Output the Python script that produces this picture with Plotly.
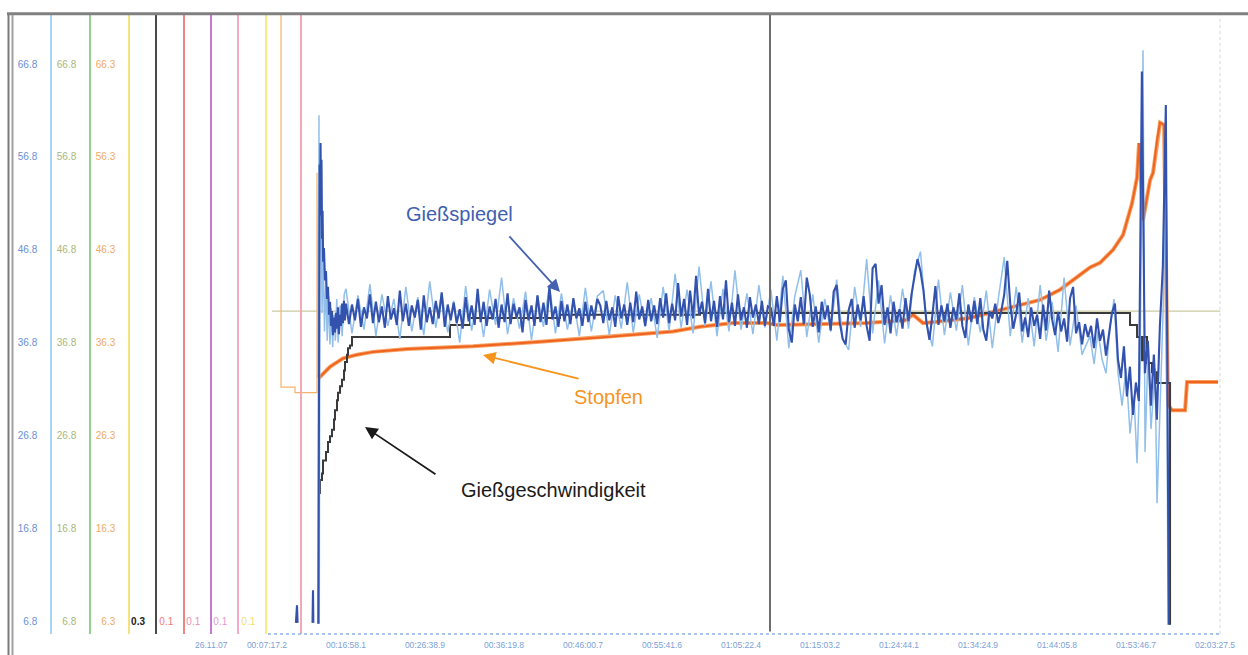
import plotly.graph_objects as go

# ---------------- tick labels ----------------
x_tick_vals = [437.2, 1018.1, 1598.9, 2179.8, 2760.7, 3341.6, 3922.4, 4503.2,
               5084.1, 5664.9, 6245.8, 6826.7, 7407.5]
x_tick_text = ["00:07:17.2", "00:16:58.1", "00:26:38.9", "00:36:19.8", "00:46:00.7",
               "00:55:41.6", "01:05:22.4", "01:15:03.2", "01:24:44.1", "01:34:24.9",
               "01:44:05.8", "01:53:46.7", "02:03:27.5"]
date_label = "26.11.07"

y_tick_vals = [6.8, 16.8, 26.8, 36.8, 46.8, 56.8, 66.8]
y_text_blue = ["6.8", "16.8", "26.8", "36.8", "46.8", "56.8", "66.8"]
y_text_green = ["6.8", "16.8", "26.8", "36.8", "46.8", "56.8", "66.8"]
y_text_orange = ["6.3", "16.3", "26.3", "36.3", "46.3", "56.3", "66.3"]
bottom_labels = ["0.3", "0.1", "0.1", "0.1", "0.1"]

# ---------------- Gießspiegel (dark) ----------------
gs_start_t = [650, 657.8, 662, 700, 772, 775.5, 778, 790, 815, 819.6, 824, 827, 831, 834.3,
              838, 842, 846, 850, 856, 863.7, 871, 878, 885.8, 893, 900.5, 908, 915, 922,
              930, 937, 944, 952, 959, 966, 974, 981, 989, 996, 1003, 1010]
gs_start_v = [6.6, 8.5, 6.6, None, 6.6, 10.1, 6.6, None, 6.5, 44.0, 56.0, 50.5, 58.3, 52.0,
              56.5, 48.0, 51.0, 45.5, 47.0, 43.5, 44.5, 41.5, 42.8, 39.8, 41.2, 38.6, 40.2, 37.6,
              39.5, 37.9, 40.0, 38.3, 40.6, 37.7, 39.8, 38.6, 41.0, 38.9, 41.3, 39.2]
gs_t0 = 1018.0
gs_dt = 22.0
gs_values = [
    41.0, 38.8, 40.9, 39.2, 41.5, 38.5, 40.6, 39.4, 42.0, 38.9, 41.2, 39.0, 40.7, 38.4, 41.8, 39.3, 40.5, 38.7, 42.4, 39.1,
    41.0, 38.6, 40.8, 39.5, 41.4, 38.2, 41.9, 39.0, 40.6, 38.8, 41.3, 39.4, 42.2, 38.5, 40.9, 39.2, 41.1, 38.9, 40.4, 38.3,
    41.7, 39.1, 40.8, 38.7, 42.6, 39.0, 41.2, 38.6, 40.7, 39.3, 41.5, 38.4, 40.9, 39.0, 42.1, 38.8, 41.0, 39.5, 40.6, 37.9,
    41.4, 39.2, 40.8, 38.6, 41.9, 39.0, 41.1, 38.7, 42.8, 39.3, 40.7, 38.5, 41.3, 39.1, 40.9, 38.8, 41.6, 39.4, 40.5, 38.6,
    41.2, 39.0, 40.8, 39.3, 41.5,
    40.8, 38.9, 41.3, 39.2, 40.6, 38.5, 41.8, 39.4, 40.9, 38.7, 41.1, 39.0, 42.3, 39.3, 40.7, 38.6, 41.4, 39.1, 40.8, 38.8,
    41.6, 39.5, 42.1, 38.9, 41.0, 39.2, 43.2, 39.6, 41.5, 38.7, 42.4, 39.4, 44.0, 39.8, 41.2, 38.9, 42.6, 39.1, 41.3, 38.5,
    41.8, 39.3, 43.5, 39.0, 41.1, 38.6, 42.0, 39.2, 40.6, 38.4, 41.7, 39.5, 40.9, 38.8, 41.3, 38.6, 40.7,
    40.5, 38.6, 41.8, 39.0, 42.6, 43.5, 38.2, 36.8, 40.9, 39.1, 41.7, 38.8, 43.8, 42.0, 38.5, 40.7, 37.9, 41.2, 39.3, 40.8,
    38.1, 42.3, 43.0, 39.0, 37.2, 36.6, 40.3, 41.5, 38.4, 40.9, 39.2, 41.8, 38.6, 37.0, 44.8, 45.3, 41.0, 43.0, 38.7, 40.6,
    37.8, 41.2, 39.0, 40.4, 38.3, 41.6, 39.1, 42.0, 43.8, 45.8, 44.5, 42.4, 39.0, 37.1, 39.8, 42.9, 38.7, 40.8, 39.1, 41.0,
    38.4, 40.6, 39.3, 42.1, 38.6, 37.3, 40.9, 39.0, 41.3, 38.8, 41.6, 38.2, 37.0, 40.2, 39.4, 41.0, 38.9,
    40.2, 42.0, 45.6, 41.0, 38.3, 39.9, 42.2, 38.0, 39.5, 37.4, 40.6, 38.6, 39.8, 37.2, 40.9, 38.1, 42.4, 39.3, 37.6, 40.1,
    38.0, 39.4, 36.9, 41.6, 42.8, 37.8, 39.0, 36.6, 38.8, 37.4,
    38.6, 36.2, 39.4, 37.0, 38.2, 35.4, 37.9, 40.0, 41.0, 35.0, 33.0, 36.4, 31.0, 34.2, 29.0, 32.5, 30.5, 66.0, 33.5, 37.0,
    30.0, 35.5, 28.5, 38.5, 45.0, 62.4, 6.4]

# ---------------- Gießspiegel (light / raw) ----------------
lt_start_t = [812.0, 819.6, 821.5, 826.0, 834.0, 842.0, 850.0, 860.0, 870.0, 880.0, 890.0,
              900.0, 910.0, 920.0, 930.0, 940.0, 950.0, 960.0, 975.0, 990.0, 1005.0]
lt_start_v = [6.5, 61.3, 6.5, 45.0, 55.0, 40.0, 47.0, 38.0, 43.5, 37.0, 41.8,
              36.6, 40.5, 36.3, 39.8, 37.0, 41.5, 36.8, 40.8, 37.5, 42.0]
lt_t0 = 1018.0
lt_dt = 44.0
lt_values = [
    42.6, 37.8, 41.9, 38.2, 43.1, 37.5, 42.0, 38.6, 41.5, 37.2, 42.8, 38.0, 41.7, 37.6, 43.4, 38.4, 42.2, 37.9, 41.3, 36.8,
    42.9, 38.1, 41.8, 37.4, 42.5, 38.7, 43.8, 37.7, 41.6, 38.3, 42.3, 37.1, 41.9, 38.5, 43.0, 37.8, 42.1, 38.2, 41.4, 37.5,
    42.7, 38.0, 41.8,
    42.4, 37.6, 41.9, 38.3, 43.3, 37.9, 42.0, 38.5, 41.6, 37.3, 42.8, 38.1, 44.2, 38.4, 42.5, 37.8, 45.0, 38.6, 43.4, 37.5,
    42.6, 38.0, 44.6, 38.2, 42.1, 37.7, 43.0, 38.4,
    42.5, 37.0, 44.0, 36.2, 41.8, 44.6, 37.4, 42.0, 36.8, 41.5, 38.0, 43.6, 37.2, 36.0, 42.8, 38.5, 45.8, 37.8, 43.5, 36.7,
    41.9, 37.5, 42.6, 38.3, 44.5, 46.6, 38.9, 36.4, 43.6, 37.6, 42.2, 38.1, 43.0, 36.5, 41.7, 37.9, 42.4, 36.2, 41.5,
    46.0, 37.5, 42.8, 36.8, 41.6, 36.4, 43.0, 37.0, 41.2, 35.8, 43.8, 36.5, 40.8, 35.5]
lt_end_t = [6488.6, 6518.0, 6547.5, 6576.9, 6606.3, 6635.7, 6665.1, 6694.5, 6723.9, 6753.3,
            6782.8, 6812.2, 6834.3, 6856.3, 6878.4, 6893.1, 6915.2, 6937.2, 6966.6, 6981.4,
            7003.4, 7025.5, 7047.6, 7062.3]
lt_end_v = [37.5, 34.5, 38.0, 35.0, 33.5, 38.5, 41.5, 33.5, 30.0, 34.0,
            27.0, 31.0, 23.8, 34.0, 68.3, 25.0, 36.0, 27.5, 34.0, 19.5,
            30.0, 40.0, 55.0, 6.4]

# ---------------- Stopfen ----------------
st_t = [540.2, 540.2, 643.1, 643.1, 804.9, 804.9, 812.2, 826.9, 900.5, 996.0,
        1099.0, 1216.6, 1466.6, 1951.9, 2444.5, 2937.1, 3422.5, 3621.0, 3863.7, 4113.7,
        4187.2, 4849.0, 5128.3, 5187.2, 5260.8, 5334.3, 5606.1, 5826.9, 5973.9, 6121.0,
        6268.1, 6415.1, 6488.6, 6562.2, 6657.8, 6731.3, 6797.5, 6834.3, 6849.0, 6878.4,
        6929.9, 6952.0, 6981.4, 7003.4, 7032.9, 7062.3, 7091.7, 7187.3, 7202.0, 7429.9]
st_v = [75.0, 32.0, 32.0, 31.4, 31.4, 55.1, 33.3, 33.1, 34.2, 35.1,
        35.5, 35.8, 36.1, 36.4, 36.9, 37.4, 38.0, 38.5, 38.9, 38.9,
        38.7, 38.9, 39.2, 39.8, 38.9, 39.0, 39.45, 40.3, 40.85, 41.4,
        42.5, 44.1, 44.9, 45.4, 46.8, 48.4, 51.8, 54.6, 58.3, 50.0,
        54.3, 55.1, 58.6, 60.5, 60.25, 30.1, 29.5, 29.5, 32.55, 32.55]

# ---------------- Gießgeschwindigkeit ----------------
gg_t = [812.2, 826.9, 841.6, 849.0, 871.0, 885.8, 900.5, 915.2, 929.9, 937.2,
        951.9, 959.3, 974.0, 988.7, 1003.4, 1010.7, 1025.5, 1032.8, 1047.5, 1062.2,
        1782.8, 1929.8, 2591.5, 3621.0, 6782.8, 6834.3, 6871.1, 6878.4, 6907.8, 6944.6,
        6981.4, 7077.0]
gg_v = [20.6, 22.0, 22.7, 24.1, 25.0, 26.1, 26.7, 27.4, 28.5, 29.5,
        30.6, 31.4, 32.1, 32.8, 33.8, 34.7, 35.5, 36.2, 36.5, 37.4,
        38.7, 39.45, 39.8, 40.0, 38.7, 37.4, 34.9, 37.4, 34.6, 33.6,
        32.45, 6.4]

# ---------------- Sollwert ----------------
sp_t = [474.0, 7444.6]
sp_v = [40.2, 40.2]

cursor_t = 4135.6

# ---------------- build ----------------
gs_t = gs_start_t + [gs_t0 + i * gs_dt for i in range(len(gs_values))]
gs_v = gs_start_v + gs_values
lt_t = lt_start_t + [lt_t0 + i * lt_dt for i in range(len(lt_values))] + lt_end_t
lt_v = lt_start_v + lt_values + lt_end_v

FONT = "Liberation Sans, Arial, sans-serif"
XR = [-1430.3, 7459.0]
YR = [5.40, 72.10]
L, R = 13, 1222
W = R - L


def pos(px):
    return (px - L) / W


fig = go.Figure()
fig.add_trace(go.Scatter(x=sp_t, y=sp_v, mode="lines", line=dict(color="#c9c9a0", width=1.2),
                         name="Sollwert", hoverinfo="skip"))
fig.add_trace(go.Scatter(x=st_t[:7], y=st_v[:7], mode="lines", line=dict(color="#f6b26b", width=1.2),
                         name="Stopfen", showlegend=False))
fig.add_trace(go.Scatter(x=st_t[6:], y=st_v[6:], mode="lines", line=dict(color="#f7a060", width=4),
                         name="Stopfen Rand", showlegend=False, hoverinfo="skip"))
fig.add_trace(go.Scatter(x=st_t[6:], y=st_v[6:], mode="lines", line=dict(color="#f0621f", width=2),
                         name="Stopfen"))
fig.add_trace(go.Scatter(x=gg_t, y=gg_v, mode="lines", line=dict(color="#3a3a3a", width=2, shape="hv"),
                         name="Gießgeschwindigkeit"))
fig.add_trace(go.Scatter(x=lt_t, y=lt_v, mode="lines", line=dict(color="#92bfea", width=1.5),
                         name="Gießspiegel roh", connectgaps=False))
fig.add_trace(go.Scatter(x=gs_t, y=gs_v, mode="lines", line=dict(color="#3352ae", width=2.1),
                         name="Gießspiegel", connectgaps=False))

axes_cfg = [
    # px, line colour, width, tick vals, tick texts, tick colour
    (51, "#a9d5f4", 1.5, y_tick_vals, y_text_blue, "#6b8fd4"),
    (90, "#93cf92", 1.5, y_tick_vals, y_text_green, "#a9b77c"),
    (129, "#f4e27a", 1.5, y_tick_vals, y_text_orange, "#f0aa62"),
    (156, "#4a4a4a", 2.0, [6.8], ["<b>" + bottom_labels[0] + "</b>"], "#222222"),
    (184, "#f28383", 1.5, [6.8], [bottom_labels[1]], "#f27a7a"),
    (211, "#c47ad4", 1.5, [6.8], [bottom_labels[2]], "#f08cb8"),
    (238, "#f4a9c6", 1.5, [6.8], [bottom_labels[3]], "#e59ad2"),
    (266, "#f6ee82", 1.5, [6.8], [bottom_labels[4]], "#f0e070"),
    (301, "#f3a9b3", 1.5, [], [], "#ffffff"),
]

layout_axes = {}
for k, (px, lc, lw, tv, tt, tc) in enumerate(axes_cfg):
    name = "yaxis" if k == 0 else f"yaxis{k + 1}"
    ax = dict(range=YR, anchor="free", position=pos(px), side="left", showline=True,
              linecolor=lc, linewidth=lw, showgrid=False, zeroline=False, ticks="",
              tickmode="array", tickvals=tv, ticktext=tt, automargin=False,
              ticklabelstandoff=11 if k < 3 else 8,
              tickfont=dict(family=FONT, size=10, color=tc))
    if k > 0:
        ax["overlaying"] = "y"
    layout_axes[name] = ax

# invisible traces so overlay axes are drawn
for k in range(1, len(axes_cfg)):
    fig.add_trace(go.Scatter(x=[None], y=[None], yaxis=f"y{k + 1}", showlegend=False,
                             hoverinfo="skip"))

fig.update_layout(
    width=1248, height=655,
    margin=dict(l=L, r=1248 - R, t=15, b=21),
    paper_bgcolor="white", plot_bgcolor="white",
    showlegend=False,
    font=dict(family=FONT),
    xaxis=dict(range=XR, showgrid=False, zeroline=False, showline=False, ticks="",
               tickmode="array", tickvals=x_tick_vals, ticktext=x_tick_text,
               ticklabelstandoff=4,
               tickfont=dict(family=FONT, size=8.5, color="#7b9fd9"), automargin=False),
    **layout_axes,
)

shapes = [
    # frame
    dict(type="line", xref="paper", yref="paper", x0=pos(7), x1=pos(1248), y0=1.002, y1=1.002,
         line=dict(color="#808080", width=3)),
    dict(type="line", xref="paper", yref="paper", x0=pos(8.5), x1=pos(8.5), y0=1.0, y1=-0.04,
         line=dict(color="#7a7a7a", width=2)),
    dict(type="line", xref="paper", yref="paper", x0=pos(12.5), x1=pos(12.5), y0=1.0, y1=-0.04,
         line=dict(color="#a0a0a0", width=2)),
    # right border
    dict(type="line", xref="paper", yref="paper", x0=pos(1220), x1=pos(1220), y0=0, y1=1,
         line=dict(color="#d6d6d6", width=1, dash="dot")),
    # cursor
    dict(type="line", xref="x", yref="paper", x0=cursor_t, x1=cursor_t, y0=0.004, y1=1,
         line=dict(color="#6e6e6e", width=2)),
    # dotted time axis
    dict(type="line", xref="x", yref="paper", x0=444.6, x1=7444.6, y0=0, y1=0,
         line=dict(color="#8fb3e8", width=1.5, dash="dot")),
]
fig.update_layout(shapes=shapes)

ann = [
    dict(x=25.5, y=0, xref="x", yref="paper", yanchor="middle", yshift=-11, text=date_label,
         showarrow=False, font=dict(family=FONT, size=8.5, color="#7b9fd9")),
    dict(x=1849.0, y=50.66, xref="x", yref="y", text="Gießspiegel", showarrow=False,
         font=dict(family=FONT, size=20, color="#3f5fb2")),
    dict(x=2951.8, y=30.94, xref="x", yref="y", text="Stopfen", showarrow=False,
         font=dict(family=FONT, size=20, color="#f7941d")),
    dict(x=2540.1, y=20.92, xref="x", yref="y", text="Gießgeschwindigkeit", showarrow=False,
         font=dict(family=FONT, size=20, color="#1a1a1a")),
    dict(x=2591.5, y=42.25, ax=2209.2, ay=48.4, xref="x", yref="y", axref="x", ayref="y",
         text="", showarrow=True, arrowhead=2, arrowsize=1.4, arrowwidth=1.8, arrowcolor="#4561b0"),
    dict(x=2025.4, y=35.46, ax=2738.6, ay=32.88, xref="x", yref="y", axref="x", ayref="y",
         text="", showarrow=True, arrowhead=2, arrowsize=1.4, arrowwidth=1.8, arrowcolor="#f7941d"),
    dict(x=1157.8, y=27.7, ax=1687.2, ay=22.5, xref="x", yref="y", axref="x", ayref="y",
         text="", showarrow=True, arrowhead=2, arrowsize=1.4, arrowwidth=1.8, arrowcolor="#1a1a1a"),
]
fig.update_layout(annotations=ann)

fig.write_html("out.html")
